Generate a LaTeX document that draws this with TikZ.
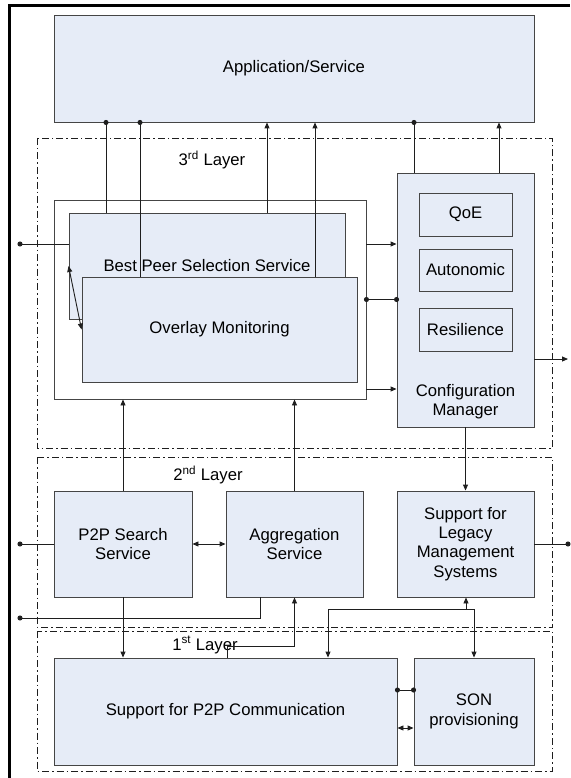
\documentclass[tikz,border=0pt]{standalone}
\usepackage{fontspec}
\setmainfont{Liberation Sans}
\usetikzlibrary{arrows.meta}
\definecolor{boxfill}{HTML}{E6ECF7}
\definecolor{boxline}{HTML}{454545}
\definecolor{linkc}{HTML}{1E1E1E}

\begin{document}
\begin{tikzpicture}[
		x=1pt, y=-1pt,
		font=\fontsize{16.7}{19.3}\selectfont,
		every node/.style={align=center},
		box/.style={rectangle, draw=boxline, fill=boxfill, line width=0.9pt, inner sep=0pt},
		holder/.style={rectangle, draw=boxline, fill=white, line width=0.9pt, inner sep=0pt},
		layer/.style={draw=linkc, line width=0.8pt, dash pattern=on 7pt off 3pt on 1.5pt off 3pt},
		lnk/.style={draw=linkc, line width=0.9pt},
		arr/.style={lnk, -{Triangle[length=6pt,width=5pt]}},
		arr2/.style={lnk, {Triangle[length=6pt,width=5pt]}-{Triangle[length=6pt,width=5pt]}},
		dotend/.style={lnk, -{Circle[length=5pt]}, shorten >=-2.5pt},
		dotstart/.style={lnk, {Circle[length=5pt]}-, shorten <=-2.5pt},
		dot2/.style={lnk, {Circle[length=5pt]}-{Circle[length=5pt]}, shorten <=-2.5pt, shorten >=-2.5pt},
		]
		\useasboundingbox (0,0) rectangle (570,778);

		% frame
		\draw[line width=3pt] (9,778) -- (9,6) -- (570,6);

		% layers
		\draw[layer] (37,138) rectangle (552,448);
		\draw[layer] (37,457) rectangle (552,627);
		\draw[layer] (37,631) rectangle (552,771);
		\node (l3) at (212,160) {3\textsuperscript{rd} Layer};
		\node (l2) at (208,475) {2\textsuperscript{nd} Layer};
		\node (l1) at (205,645) {1\textsuperscript{st} Layer};

		% boxes
		\node[box, minimum width=480pt, minimum height=107pt] (app) at (294,68.5) {Application/Service};
		\node[holder, minimum width=312pt, minimum height=199pt] (cont) at (210,299.5) {};
		\node[box, minimum width=276pt, minimum height=106pt] (bps) at (207,266) {Best Peer Selection Service};
		\node[box, minimum width=275pt, minimum height=105pt] (ovm) at (219.5,329.5) {Overlay Monitoring};

		\node[box, minimum width=137pt, minimum height=254pt] (cfg) at (465.5,300) {};
		\node (cfgtxt) at (465.5,402) {Configuration\\Manager};
		\node[box, minimum width=93pt, minimum height=43pt] (qoe) at (465.5,214.5) {QoE};
		\node[box, minimum width=93pt, minimum height=42pt] (auto) at (465.5,270) {Autonomic};
		\node[box, minimum width=93pt, minimum height=43pt] (resil) at (465.5,329.5) {Resilience};

		\node[box, minimum width=138pt, minimum height=106pt] (p2ps) at (123,544) {P2P Search\\Service};
		\node[box, minimum width=137pt, minimum height=106pt] (aggr) at (294.5,544) {Aggregation\\Service};
		\node[box, minimum width=137pt, minimum height=106pt] (legacy) at (465.5,544) {Support for\\Legacy\\Management\\Systems};

		\node[box, minimum width=343pt, minimum height=107pt] (p2pc) at (225.5,711.5) {Support for P2P Communication};
		\node[box, minimum width=120pt, minimum height=107pt] (son) at (474,711.5) {SON\\provisioning};

		% free ends
		\coordinate (inA) at (20,244);
		\coordinate (inB) at (20,544);
		\coordinate (inC) at (20,618);
		\coordinate (outA) at (568,359);
		\coordinate (outB) at (568,544);
		\coordinate (jn) at (466,609);

		% 3rd layer up to application
		\draw[dotend] (bps.north -| 106,0) -- (app.south -| 106,0);
		\draw[dotend] (ovm.north -| 140,0) -- (app.south -| 140,0);
		\draw[arr] (bps.north -| 267,0) -- (app.south -| 267,0);
		\draw[arr] (ovm.north -| 315,0) -- (app.south -| 315,0);
		\draw[dotend] (cfg.north -| 414,0) -- (app.south -| 414,0);
		\draw[arr] (cfg.north -| 499,0) -- (app.south -| 499,0);

		\draw[dotstart] (inA) -- (inA -| bps.west);
		\draw[arr2] (bps.west) -- (ovm.west);
		\draw[arr] (cont.east |- 0,244) -- (cfg.west |- 0,244);
		\draw[dot2] (cont.east) -- (cont.east -| cfg.west);
		\draw[arr] (cont.east |- 0,389) -- (cfg.west |- 0,389);
		\draw[arr] (cfg.east |- outA) -- (outA);

		% 2nd layer
		\draw[arr] (cfg.south) -- (legacy.north);
		\draw[arr] (p2ps.north) -- (p2ps.north |- cont.south);
		\draw[arr] (aggr.north) -- (aggr.north |- cont.south);
		\draw[dotstart] (inB) -- (p2ps.west);
		\draw[arr2] (p2ps.east) -- (aggr.west);
		\draw[dotend] (legacy.east) -- (outB);
		\draw[dotend] (aggr.south -| 260,0) |- (inC);

		% 1st layer
		\draw[arr] (p2ps.south) -- (p2pc.north -| p2ps.south);
		\draw[arr] (p2pc.north -| 227,0) -- (227,646) -| (aggr.south);
		\draw[arr] (jn) -- (legacy.south -| jn);
		\draw[arr] (jn) -| (son.north);
		\draw[arr] (jn) -| (p2pc.north -| 328,0);
		\draw[dot2] (p2pc.east |- 0,690) -- (son.west |- 0,690);
		\draw[arr2] (p2pc.east |- 0,728) -- (son.west |- 0,728);

	\end{tikzpicture}
\end{document}
